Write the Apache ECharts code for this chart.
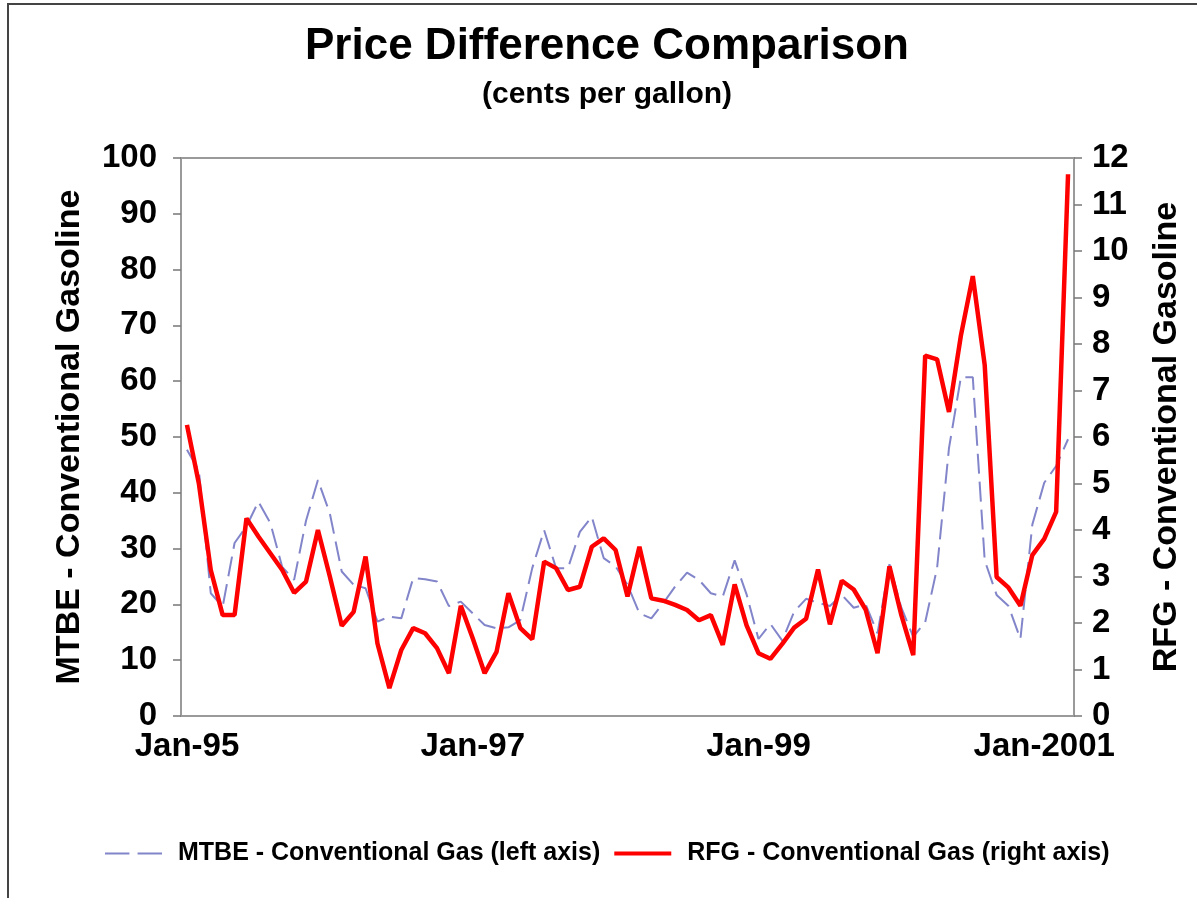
<!DOCTYPE html>
<html>
<head>
<meta charset="utf-8">
<title>Price Difference Comparison</title>
<script src="https://cdn.jsdelivr.net/npm/echarts@6/dist/echarts.min.js"></script>
<style>
    html, body { margin: 0; padding: 0; background: #fff; }
    #chart { width: 1197px; height: 898px; }
</style>
</head>
<body>
<div id="chart"></div>
<script>
// months Jan-95 .. Mar-2001
var monthNames = ['Jan', 'Feb', 'Mar', 'Apr', 'May', 'Jun', 'Jul', 'Aug', 'Sep', 'Oct', 'Nov', 'Dec'];
var years = [1995, 1996, 1997, 1998, 1999, 2000, 2001];
var tickLabels = {0: 'Jan-95', 24: 'Jan-97', 48: 'Jan-99', 72: 'Jan-2001'};

// MTBE - Conventional Gas (left axis, cents/gal)
var mtbe = [
    47.7, 44.0, 22.0, 19.6, 31.0, 34.0, 38.4, 34.6, 26.7, 24.4, 35.0, 42.3,
    36.3, 25.9, 23.5, 22.9, 16.9, 17.8, 17.5, 24.7, 24.5, 24.1, 19.7, 20.5,
    18.4, 16.3, 15.7, 15.9, 17.2, 26.5, 33.3, 26.5, 26.5, 33.0, 35.7, 28.3,
    26.8, 23.5, 18.4, 17.5, 20.2, 23.2, 25.7, 24.4, 22.0, 21.4, 27.9, 21.8,
    13.8, 16.5, 13.5, 18.7, 21.0, 20.3, 19.7, 21.7, 19.4, 20.0, 14.8, 27.2,
    19.4, 14.2, 16.8, 26.5, 48.0, 60.7, 60.7, 27.9, 21.7, 19.7, 13.8, 34.3,
    41.8, 44.8, 49.6
];

// RFG - Conventional Gas (right axis, cents/gal)
var rfg = [
    6.26, 5.00, 3.14, 2.17, 2.17, 4.25, 3.86, 3.50, 3.14, 2.65, 2.89, 4.00,
    3.00, 1.94, 2.24, 3.43, 1.56, 0.60, 1.42, 1.89, 1.78, 1.46, 0.92, 2.37,
    1.67, 0.92, 1.38, 2.64, 1.89, 1.65, 3.32, 3.18, 2.71, 2.78, 3.64, 3.82,
    3.57, 2.57, 3.64, 2.53, 2.48, 2.39, 2.28, 2.06, 2.17, 1.53, 2.83, 1.95,
    1.35, 1.23, 1.55, 1.90, 2.09, 3.15, 1.97, 2.91, 2.72, 2.29, 1.35, 3.22,
    2.17, 1.31, 7.75, 7.67, 6.54, 8.18, 9.46, 7.55, 2.99, 2.76, 2.37, 3.46,
    3.81, 4.39, 11.65
];

var months = [];
for (var i = 0; i < mtbe.length; i++) {
    var y = years[Math.floor(i / 12)];
    months.push(monthNames[i % 12] + '-' + String(y).slice(2));
}

var font = '"Liberation Sans", Arial, sans-serif';
var axisGray = '#9a9a9a';
var blue = '#8285c9';

function drawChart() {
    var dom = document.getElementById("chart");
    var myChart = echarts.init(dom);
    var option = null;

    option = {
        backgroundColor: '#fff',
        animation: false,
        textStyle: { fontFamily: font },
        graphic: [{
            type: 'rect',
            shape: { x: 8, y: 4, width: 1300, height: 1000 },
            style: { fill: 'none', stroke: '#444', lineWidth: 2 },
            silent: true
        }],
        title: [{
            text: 'Price Difference Comparison',
            left: 300,
            top: 20,
            textStyle: { fontFamily: font, fontSize: 44, fontWeight: 'bold', color: '#000' }
        }, {
            text: '(cents per gallon)',
            left: 477,
            top: 75,
            textStyle: { fontFamily: font, fontSize: 30, fontWeight: 'bold', color: '#000' }
        }],
        legend: {
            left: 100,
            top: 836,
            itemWidth: 57,
            itemHeight: 16,
            itemGap: 14,
            textStyle: { fontFamily: font, fontSize: 25, fontWeight: 'bold', color: '#000', padding: [0, 0, 0, 11] },
            data: [{
                name: 'MTBE - Conventional Gas (left axis)',
                icon: 'path://M0,0h24v2h-24z M32,0h24v2h-24z',
                itemStyle: { color: blue }
            }, {
                name: 'RFG - Conventional Gas (right axis)',
                icon: 'path://M0,0h57v4h-57z',
                itemStyle: { color: '#ff0000' }
            }]
        },
        grid: {
            left: 181,
            right: 123,
            top: 158,
            bottom: 182,
            show: true,
            borderColor: axisGray,
            borderWidth: 2
        },
        xAxis: {
            type: 'category',
            data: months,
            boundaryGap: true,
            axisLine: { lineStyle: { color: axisGray, width: 2 } },
            axisTick: { alignWithLabel: true, interval: 0, length: 9, lineStyle: { color: '#777', width: 1.5 } },
            axisLabel: {
                interval: function (idx) { return tickLabels[idx] !== undefined; },
                formatter: function (val, idx) { return tickLabels[idx] || ''; },
                margin: 14,
                fontFamily: font,
                fontSize: 33,
                fontWeight: 'bold',
                color: '#000'
            },
            splitLine: { show: false }
        },
        yAxis: [{
            type: 'value',
            min: 0,
            max: 100,
            interval: 10,
            name: 'MTBE - Conventional Gasoline',
            nameLocation: 'middle',
            nameRotate: 90,
            nameGap: 94,
            nameTextStyle: { fontFamily: font, fontSize: 34, fontWeight: 'bold', color: '#000' },
            axisLine: { show: true, lineStyle: { color: axisGray, width: 2 } },
            axisTick: { show: true, length: 8, lineStyle: { color: '#777', width: 1.5 } },
            axisLabel: { margin: 24, fontFamily: font, fontSize: 33, fontWeight: 'bold', color: '#000' },
            splitLine: { show: false }
        }, {
            type: 'value',
            position: 'right',
            min: 0,
            max: 12,
            interval: 1,
            name: 'RFG - Conventional Gasoline',
            nameLocation: 'middle',
            nameRotate: 90,
            nameGap: 76,
            nameTextStyle: { fontFamily: font, fontSize: 34, fontWeight: 'bold', color: '#000' },
            axisLine: { show: true, lineStyle: { color: axisGray, width: 2 } },
            axisTick: { show: true, length: 8, lineStyle: { color: '#777', width: 1.5 } },
            axisLabel: { margin: 18, fontFamily: font, fontSize: 33, fontWeight: 'bold', color: '#000' },
            splitLine: { show: false }
        }],
        series: [{
            name: 'MTBE - Conventional Gas (left axis)',
            type: 'line',
            yAxisIndex: 0,
            data: mtbe,
            symbol: 'none',
            showSymbol: false,
            lineStyle: { color: blue, width: 2, type: [20, 8] },
            itemStyle: { color: blue },
            z: 2
        }, {
            name: 'RFG - Conventional Gas (right axis)',
            type: 'line',
            yAxisIndex: 1,
            data: rfg,
            symbol: 'none',
            showSymbol: false,
            lineStyle: { color: '#ff0000', width: 4.5 },
            itemStyle: { color: '#ff0000' },
            z: 3
        }]
    };

    if (option && typeof option === "object") {
        myChart.setOption(option, true);
    }
}

drawChart();
</script>
</body>
</html>
